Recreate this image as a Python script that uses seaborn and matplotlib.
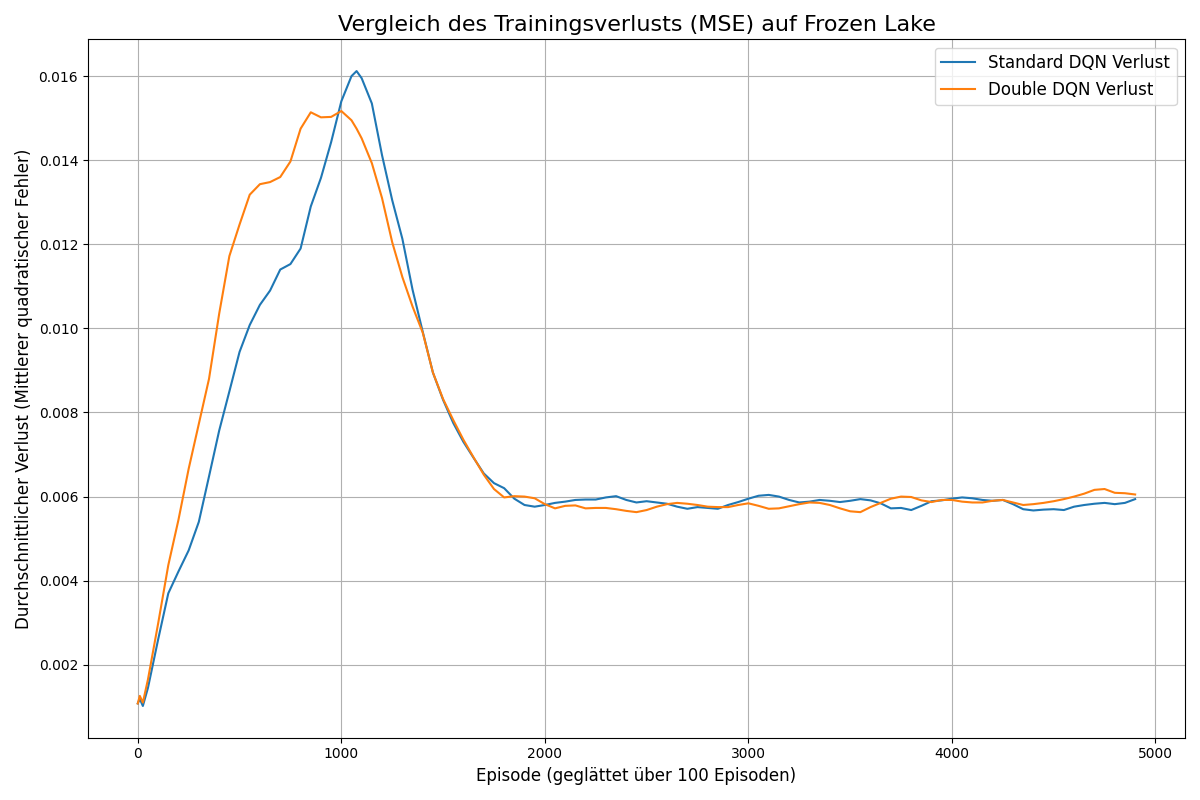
import numpy as np
import pandas as pd
import matplotlib
matplotlib.use("Agg")
import matplotlib.pyplot as plt
import seaborn as sns

episodes = [0, 10, 25] + list(range(50, 1051, 50)) + [1075] + list(range(1100, 4901, 50))

standard_loss = [
    0.00108, 0.00119, 0.00102,
    0.00145, 0.00260, 0.00370, 0.00422, 0.00472, 0.00540, 0.00648, 0.00757, 0.00850,
    0.00944, 0.01008, 0.01056, 0.01090, 0.01140, 0.01153, 0.01190, 0.01290, 0.01358, 0.01443,
    0.01540, 0.01600, 0.01612, 0.01595, 0.01535, 0.01412, 0.01305, 0.01213, 0.01092, 0.00992, 0.00895,
    0.00830, 0.00775, 0.00730, 0.00692, 0.00655, 0.00632, 0.00620, 0.00595, 0.00580, 0.00576,
    0.00580, 0.00585, 0.00588, 0.00592, 0.00593, 0.00593, 0.00598, 0.00601, 0.00592, 0.00586,
    0.00589, 0.00586, 0.00583, 0.00576, 0.00571, 0.00575, 0.00573, 0.00571, 0.00580, 0.00587,
    0.00595, 0.00602, 0.00604, 0.00600, 0.00592, 0.00586, 0.00588, 0.00592, 0.00590, 0.00587,
    0.00590, 0.00594, 0.00591, 0.00584, 0.00572, 0.00573, 0.00568, 0.00578, 0.00589, 0.00591,
    0.00595, 0.00598, 0.00596, 0.00592, 0.00590, 0.00592, 0.00582, 0.00570, 0.00567, 0.00569,
    0.00570, 0.00568, 0.00576, 0.00580, 0.00583, 0.00585, 0.00582, 0.00585, 0.00594,
]

double_loss = [
    0.00108, 0.00126, 0.00110,
    0.00165, 0.00298, 0.00437, 0.00545, 0.00666, 0.00773, 0.00880, 0.01035, 0.01172,
    0.01247, 0.01318, 0.01343, 0.01348, 0.01360, 0.01397, 0.01475, 0.01514, 0.01502, 0.01503,
    0.01517, 0.01495, 0.01475, 0.01452, 0.01393, 0.01310, 0.01205, 0.01122, 0.01052, 0.00990, 0.00895,
    0.00832, 0.00782, 0.00735, 0.00693, 0.00652, 0.00618, 0.00598, 0.00601, 0.00600, 0.00596,
    0.00582, 0.00572, 0.00578, 0.00579, 0.00572, 0.00573, 0.00573, 0.00570, 0.00566, 0.00563,
    0.00568, 0.00576, 0.00582, 0.00585, 0.00583, 0.00580, 0.00576, 0.00575, 0.00575, 0.00580,
    0.00584, 0.00578, 0.00571, 0.00572, 0.00577, 0.00582, 0.00586, 0.00585, 0.00580, 0.00572,
    0.00565, 0.00563, 0.00575, 0.00585, 0.00595, 0.00600, 0.00599, 0.00591, 0.00587, 0.00592,
    0.00592, 0.00588, 0.00586, 0.00586, 0.00590, 0.00592, 0.00586, 0.00580, 0.00582, 0.00585,
    0.00589, 0.00594, 0.00600, 0.00607, 0.00616, 0.00618, 0.00609, 0.00608, 0.00605,
]

labels = ["Standard DQN Verlust", "Double DQN Verlust"]

fig, ax = plt.subplots(figsize=(12, 8), dpi=100)
sns.lineplot(x=episodes, y=standard_loss, ax=ax, color="#1f77b4", linewidth=1.5, label=labels[0])
sns.lineplot(x=episodes, y=double_loss, ax=ax, color="#ff7f0e", linewidth=1.5, label=labels[1])

ax.set_title("Vergleich des Trainingsverlusts (MSE) auf Frozen Lake", fontsize=16)
ax.set_xlabel("Episode (geglättet über 100 Episoden)", fontsize=12)
ax.set_ylabel("Durchschnittlicher Verlust (Mittlerer quadratischer Fehler)", fontsize=12)
ax.grid(True, color="#b0b0b0", linewidth=0.8)
ax.set_axisbelow(True)
ax.legend(loc="upper right", fontsize=12)
fig.tight_layout()
fig.savefig("out.png", dpi=100)
